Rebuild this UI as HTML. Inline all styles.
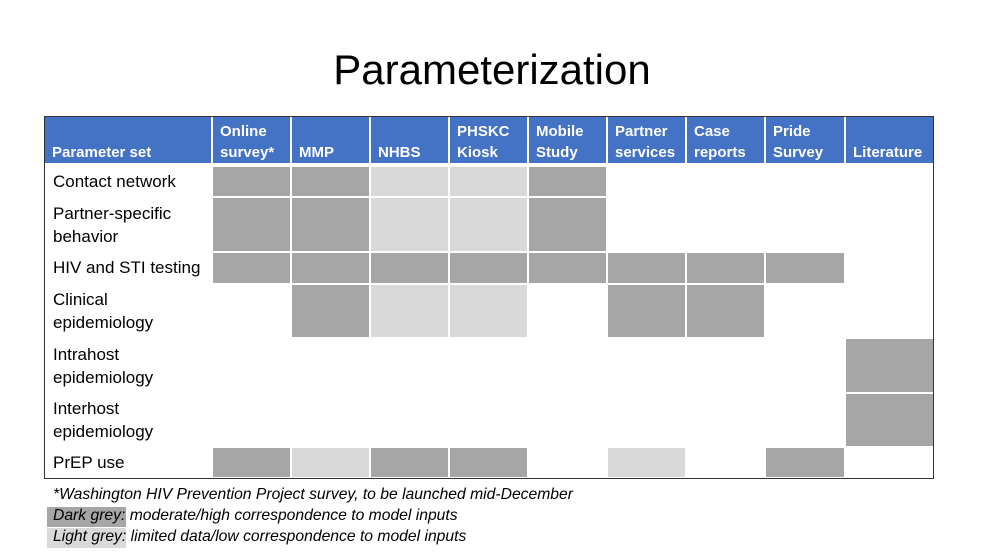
<!DOCTYPE html>
<html><head><meta charset="utf-8"><style>
body{margin:0;width:984px;height:553px;background:#fff;position:relative;overflow:hidden;font-family:"Liberation Sans",sans-serif}
.a{position:absolute}
.t{left:0;width:984px;top:46px;text-align:center;font-size:42px;color:#000}
.frame{left:44px;top:116px;width:890px;height:363px;border:1.5px solid #333;box-sizing:border-box}
.hd{top:117px;height:46px;background:#4472c4}
.h{color:#fff;font-weight:bold;font-size:15px;line-height:21px;top:121px;height:42px;display:flex;align-items:flex-end;padding-left:8px;box-sizing:border-box}
.D{background:#a6a6a6}.L{background:#d9d9d9}
.r{left:53px;font-size:17px;line-height:23px;color:#000}
.f{left:53px;font-size:15.7px;font-style:italic;color:#000}
</style></head><body>
<div class="a t">Parameterization</div>
<div class="a frame"></div>
<div class="a hd" style="left:45px;width:166px"></div>
<div class="a hd" style="left:213px;width:77px"></div>
<div class="a hd" style="left:292px;width:77px"></div>
<div class="a hd" style="left:371px;width:77px"></div>
<div class="a hd" style="left:450px;width:77px"></div>
<div class="a hd" style="left:529px;width:77px"></div>
<div class="a hd" style="left:608px;width:77px"></div>
<div class="a hd" style="left:687px;width:77px"></div>
<div class="a hd" style="left:766px;width:78px"></div>
<div class="a hd" style="left:846px;width:87px"></div>
<div class="a h" style="left:44px;width:168px">Parameter set</div>
<div class="a h" style="left:212px;width:79px">Online<br>survey*</div>
<div class="a h" style="left:291px;width:79px">MMP</div>
<div class="a h" style="left:370px;width:79px">NHBS</div>
<div class="a h" style="left:449px;width:79px">PHSKC<br>Kiosk</div>
<div class="a h" style="left:528px;width:79px">Mobile<br>Study</div>
<div class="a h" style="left:607px;width:79px">Partner<br>services</div>
<div class="a h" style="left:686px;width:79px">Case<br>reports</div>
<div class="a h" style="left:765px;width:80px">Pride<br>Survey</div>
<div class="a h" style="left:845px;width:89px">Literature</div>

<div class="a D" style="left:213px;top:167px;width:77px;height:29px"></div>
<div class="a D" style="left:292px;top:167px;width:77px;height:29px"></div>
<div class="a L" style="left:371px;top:167px;width:77px;height:29px"></div>
<div class="a L" style="left:450px;top:167px;width:77px;height:29px"></div>
<div class="a D" style="left:529px;top:167px;width:77px;height:29px"></div>
<div class="a D" style="left:213px;top:198px;width:77px;height:53px"></div>
<div class="a D" style="left:292px;top:198px;width:77px;height:53px"></div>
<div class="a L" style="left:371px;top:198px;width:77px;height:53px"></div>
<div class="a L" style="left:450px;top:198px;width:77px;height:53px"></div>
<div class="a D" style="left:529px;top:198px;width:77px;height:53px"></div>
<div class="a D" style="left:213px;top:253px;width:77px;height:30px"></div>
<div class="a D" style="left:292px;top:253px;width:77px;height:30px"></div>
<div class="a D" style="left:371px;top:253px;width:77px;height:30px"></div>
<div class="a D" style="left:450px;top:253px;width:77px;height:30px"></div>
<div class="a D" style="left:529px;top:253px;width:77px;height:30px"></div>
<div class="a D" style="left:608px;top:253px;width:77px;height:30px"></div>
<div class="a D" style="left:687px;top:253px;width:77px;height:30px"></div>
<div class="a D" style="left:766px;top:253px;width:78px;height:30px"></div>
<div class="a D" style="left:292px;top:285px;width:77px;height:52px"></div>
<div class="a L" style="left:371px;top:285px;width:77px;height:52px"></div>
<div class="a L" style="left:450px;top:285px;width:77px;height:52px"></div>
<div class="a D" style="left:608px;top:285px;width:77px;height:52px"></div>
<div class="a D" style="left:687px;top:285px;width:77px;height:52px"></div>
<div class="a D" style="left:846px;top:339px;width:87px;height:53px"></div>
<div class="a D" style="left:846px;top:394px;width:87px;height:52px"></div>
<div class="a D" style="left:213px;top:448px;width:77px;height:29px"></div>
<div class="a L" style="left:292px;top:448px;width:77px;height:29px"></div>
<div class="a D" style="left:371px;top:448px;width:77px;height:29px"></div>
<div class="a D" style="left:450px;top:448px;width:77px;height:29px"></div>
<div class="a L" style="left:608px;top:448px;width:77px;height:29px"></div>
<div class="a D" style="left:766px;top:448px;width:78px;height:29px"></div>

<div class="a r" style="top:170px">Contact network</div>
<div class="a r" style="top:202px">Partner-specific<br>behavior</div>
<div class="a r" style="top:256px">HIV and STI testing</div>
<div class="a r" style="top:288px">Clinical<br>epidemiology</div>
<div class="a r" style="top:343px">Intrahost<br>epidemiology</div>
<div class="a r" style="top:397px">Interhost<br>epidemiology</div>
<div class="a r" style="top:451px">PrEP use</div>

<div class="a D" style="left:47px;top:507px;width:79px;height:20px"></div>
<div class="a L" style="left:47px;top:528px;width:79px;height:20px"></div>
<div class="a f" style="top:486px">*Washington HIV Prevention Project survey, to be launched mid-December</div>
<div class="a f" style="top:507px">Dark grey: moderate/high correspondence to model inputs</div>
<div class="a f" style="top:528px">Light grey: limited data/low correspondence to model inputs</div>
</body></html>
